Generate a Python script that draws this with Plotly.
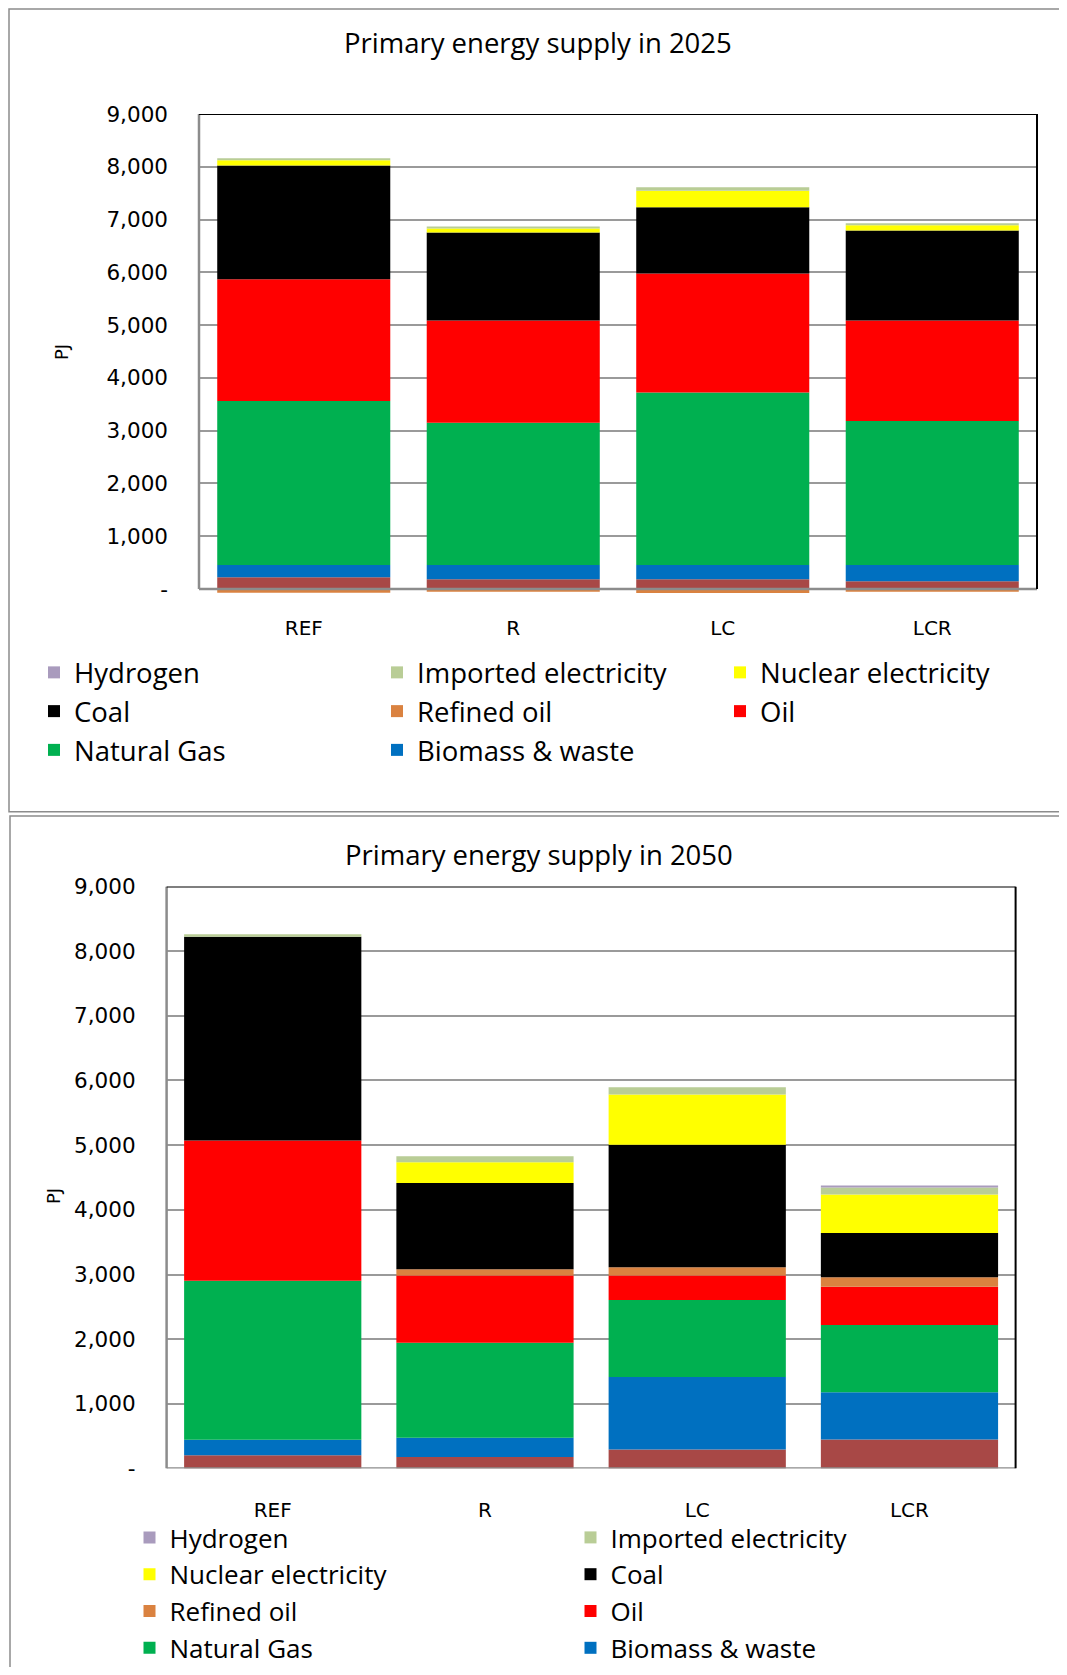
import plotly.graph_objects as go

# the page body has an 8px margin, so the figure is a bit smaller than the window
OFF = 8
W, H = 1067 - 2 * OFF, 1675 - 2 * OFF

SCENARIOS = ["REF", "R", "LC", "LCR"]

# Primary energy supply in 2025 (PJ), bottom of the stack first
OTHER_2025 = [222, 184, 184, 146]
BIOMASS_2025 = [233, 271, 271, 309]
GAS_2025 = [3106, 2695, 3270, 2727]
OIL_2025 = [2310, 1939, 2254, 1907]
REFINED_2025 = [-70, -50, -75, -50]
COAL_2025 = [2154, 1667, 1256, 1705]
NUCLEAR_2025 = [100, 75, 309, 100]
IMPORTED_2025 = [38, 38, 70, 38]
HYDROGEN_2025 = [0, 0, 0, 0]

# Primary energy supply in 2050 (PJ)
OTHER_2050 = [205, 179, 297, 451]
BIOMASS_2050 = [241, 298, 1118, 728]
GAS_2050 = [2456, 1468, 1191, 1039]
OIL_2050 = [2171, 1039, 378, 595]
REFINED_2050 = [0, 99, 130, 146]
COAL_2050 = [3148, 1332, 1891, 683]
NUCLEAR_2050 = [0, 321, 777, 596]
IMPORTED_2050 = [41, 93, 114, 109]
HYDROGEN_2050 = [0, 0, 0, 26]

Y_TICKS = [0, 1000, 2000, 3000, 4000, 5000, 6000, 7000, 8000, 9000]
Y_TICK_TEXT = ["-", "1,000", "2,000", "3,000", "4,000", "5,000", "6,000", "7,000", "8,000", "9,000"]

COLORS = {
    "Other": "#A84846",
    "Biomass & waste": "#0070C0",
    "Natural Gas": "#00B050",
    "Oil": "#FF0000",
    "Refined oil": "#DA8240",
    "Coal": "#000000",
    "Nuclear electricity": "#FFFF00",
    "Imported electricity": "#B9CD96",
    "Hydrogen": "#A99BBD",
}

SERIES_2025 = [
    ("Other", OTHER_2025),
    ("Biomass & waste", BIOMASS_2025),
    ("Natural Gas", GAS_2025),
    ("Oil", OIL_2025),
    ("Refined oil", REFINED_2025),
    ("Coal", COAL_2025),
    ("Nuclear electricity", NUCLEAR_2025),
    ("Imported electricity", IMPORTED_2025),
    ("Hydrogen", HYDROGEN_2025),
]
SERIES_2050 = [
    ("Other", OTHER_2050),
    ("Biomass & waste", BIOMASS_2050),
    ("Natural Gas", GAS_2050),
    ("Oil", OIL_2050),
    ("Refined oil", REFINED_2050),
    ("Coal", COAL_2050),
    ("Nuclear electricity", NUCLEAR_2050),
    ("Imported electricity", IMPORTED_2050),
    ("Hydrogen", HYDROGEN_2050),
]

TICK_FONT = "DejaVu Sans, Verdana, sans-serif"
TEXT_FONT = "Open Sans, Calibri, sans-serif"
FRAME = "#8C8C8C"
GRID = "#9A9A9A"


def px_x(p):
    # page pixel -> paper fraction
    return (p - OFF) / W


def px_y(p):
    return 1 - (p - OFF) / H


fig = go.Figure()

for series, xa, ya, legend, bar_w in (
    (SERIES_2025, "x", "y", "legend", 0.826),
    (SERIES_2050, "x2", "y2", "legend2", 0.835),
):
    for name, values in series:
        fig.add_trace(
            go.Bar(
                x=SCENARIOS,
                y=values,
                name=name,
                marker=dict(color=COLORS[name], line=dict(width=0)),
                width=bar_w,
                xaxis=xa,
                yaxis=ya,
                legend=legend,
                showlegend=name != "Other",
            )
        )

axis_common = dict(showline=False, ticks="", fixedrange=True, automargin=False)

fig.update_layout(
    width=W,
    height=H,
    autosize=False,
    margin=dict(l=0, r=0, t=0, b=0, autoexpand=False),
    paper_bgcolor="white",
    plot_bgcolor="white",
    barmode="relative",
    xaxis=dict(
        domain=[px_x(199), px_x(1037)],
        anchor="y",
        showgrid=False,
        tickfont=dict(family=TICK_FONT, size=20, color="black"),
        ticklabelstandoff=20,
        **axis_common,
    ),
    yaxis=dict(
        domain=[px_y(593.75), px_y(114)],
        anchor="x",
        range=[-90, 9000],
        tickvals=Y_TICKS,
        ticktext=Y_TICK_TEXT,
        gridcolor=GRID,
        gridwidth=2,
        zeroline=False,
        tickfont=dict(family=TICK_FONT, size=21.5, color="black"),
        ticklabelstandoff=30,
        **axis_common,
    ),
    xaxis2=dict(
        domain=[px_x(166.6), px_x(1015.6)],
        anchor="y2",
        showgrid=False,
        tickfont=dict(family=TICK_FONT, size=20, color="black"),
        ticklabelstandoff=27,
        **axis_common,
    ),
    yaxis2=dict(
        domain=[px_y(1468.6), px_y(886.4)],
        anchor="x2",
        range=[0, 9000],
        tickvals=Y_TICKS,
        ticktext=Y_TICK_TEXT,
        gridcolor=GRID,
        gridwidth=2,
        zeroline=False,
        tickfont=dict(family=TICK_FONT, size=21.5, color="black"),
        ticklabelstandoff=30,
        **axis_common,
    ),
    legend=dict(
        orientation="h",
        traceorder="reversed",
        x=px_x(34),
        y=px_y(648),
        xanchor="left",
        yanchor="top",
        entrywidth=298,
        font=dict(family=TEXT_FONT, size=27.5, color="black"),
        bgcolor="rgba(0,0,0,0)",
    ),
    legend2=dict(
        orientation="h",
        traceorder="reversed",
        x=px_x(129.5),
        y=px_y(1514),
        xanchor="left",
        yanchor="top",
        entrywidth=396,
        font=dict(family=TEXT_FONT, size=26, color="black"),
        bgcolor="rgba(0,0,0,0)",
    ),
)

# titles and axis titles
for text, x, y in (
    ("Primary energy supply in 2025", 538, 43),
    ("Primary energy supply in 2050", 539, 854),
):
    fig.add_annotation(
        text=text, x=px_x(x), y=px_y(y), xref="paper", yref="paper",
        xanchor="center", yanchor="middle", showarrow=False,
        font=dict(family=TEXT_FONT, size=27.5, color="black"),
    )
for x, y in ((61, 352), (53, 1196)):
    fig.add_annotation(
        text="PJ", x=px_x(x), y=px_y(y), xref="paper", yref="paper",
        xanchor="center", yanchor="middle", showarrow=False, textangle=-90,
        font=dict(family=TICK_FONT, size=18, color="black"),
    )

# outer chart frames
fig.add_shape(type="rect", xref="paper", yref="paper",
              x0=px_x(9), x1=1.02, y0=px_y(811.7), y1=px_y(9),
              line=dict(color=FRAME, width=1.5), layer="below")
fig.add_shape(type="rect", xref="paper", yref="paper",
              x0=px_x(10), x1=1.02, y0=-0.02, y1=px_y(816),
              line=dict(color=FRAME, width=1.5), layer="below")

# plot-area borders: grey axes left/bottom, black top/right
for xa, ya in (("x", "y"), ("x2", "y2")):
    xd = xa + " domain"
    fig.add_shape(type="line", xref=xd, yref=ya, x0=0, x1=0, y0=0, y1=9000,
                  line=dict(color=FRAME, width=2.5))
    fig.add_shape(type="line", xref=xd, yref=ya, x0=0, x1=1, y0=0, y1=0,
                  line=dict(color=FRAME, width=2.5))
    fig.add_shape(type="line", xref=xd, yref=ya, x0=0, x1=1, y0=9000, y1=9000,
                  line=dict(color="black", width=2))
    fig.add_shape(type="line", xref=xd, yref=ya, x0=1, x1=1, y0=0, y1=9000,
                  line=dict(color="black", width=2))

fig.write_html("out.html")
